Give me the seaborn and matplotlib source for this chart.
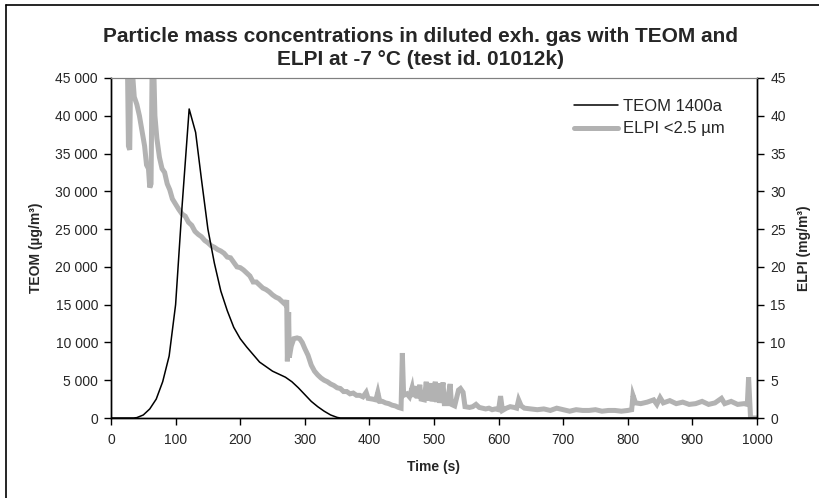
import matplotlib
matplotlib.use("Agg")
import matplotlib.pyplot as plt
import matplotlib.ticker as mticker
from matplotlib.lines import Line2D
import seaborn as sns
import pandas as pd

# ---- data ----
teom_time = [0, 35, 40, 50, 60, 70, 80, 90, 100, 110, 121, 131, 140, 150, 160, 170,
             180, 190, 200, 210, 220, 230, 240, 250, 260, 270, 280, 290, 300, 310,
             320, 330, 340, 350, 355, 1000]
teom_ugm3 = [0, 0, 50, 400, 1200, 2500, 4800, 8200, 15000, 28000, 40900, 37800, 31600,
             25000, 20500, 16800, 14200, 12000, 10500, 9400, 8400, 7400, 6800, 6200,
             5800, 5400, 4800, 4000, 3100, 2200, 1500, 900, 400, 80, 0, 0]

elpi_time = [25, 27, 29, 31, 33, 36, 40, 44, 48, 52, 55, 58, 60, 62, 64, 66, 68, 71, 75,
             79, 83, 87, 91, 95, 100, 105, 110, 115, 120, 125, 130, 135, 140, 145, 150,
             155, 160, 165, 170, 175, 180, 185, 190, 195, 200, 205, 210, 215, 220, 225,
             230, 235, 240, 245, 250, 255, 260, 265, 270, 272, 273, 275, 276, 279, 283,
             288, 292, 296, 300, 305, 310, 315, 320, 325, 330, 335, 340, 345, 350, 355,
             360, 365, 370, 375, 380, 385, 390, 395, 398, 405, 410, 413, 416, 420, 425,
             430, 435, 440, 445, 449, 451, 453, 458, 462, 466, 468, 472, 474, 478, 480,
             485, 488, 490, 495, 497, 502, 504, 507, 509, 514, 516, 520, 525, 527, 532,
             538, 541, 545, 548, 555, 560, 565, 570, 575, 580, 585, 590, 595, 600, 603,
             606, 612, 618, 624, 628, 631, 635, 640, 650, 660, 670, 680, 690, 700, 710,
             720, 730, 740, 750, 760, 770, 780, 790, 800, 806, 808, 812, 820, 830, 840,
             845, 850, 855, 865, 875, 885, 895, 905, 915, 925, 935, 945, 950, 960, 970,
             980, 985, 987, 990, 1000]
elpi_mgm3 = [50, 36, 35.5, 50, 46, 42.5, 41.5, 40, 38, 36, 33.5, 33, 30.5, 31, 50, 47, 40,
             37, 34.5, 33, 32.5, 31, 30.2, 29, 28.3, 27.6, 27, 26.7, 25.9, 25.5, 24.7,
             24.3, 24, 23.5, 23.2, 22.8, 22.6, 22.3, 22.1, 21.8, 21.3, 21.2, 20.6, 20.0,
             19.9, 19.6, 19.2, 18.8, 18.0, 18.0, 17.6, 17.2, 17.0, 16.7, 16.3, 16.0, 15.8,
             15.4, 15.0, 15.6, 7.5, 14, 8, 9.5, 10.5, 10.6, 10.5, 10.0, 9.2, 8.3, 7.0, 6.2,
             5.7, 5.3, 5.0, 4.8, 4.5, 4.3, 4.0, 3.9, 3.5, 3.5, 3.2, 3.3, 3.0, 3.0, 2.8,
             3.4, 2.6, 2.5, 2.4, 3.4, 2.2, 2.2, 2.0, 1.9, 1.7, 1.6, 1.4, 1.3, 8.6, 3.0,
             3.2, 2.8, 4.0, 2.8, 4.2, 2.6, 4.4, 2.5, 2.4, 4.8, 2.3, 4.6, 2.2, 4.8, 2.1,
             4.6, 2.0, 4.7, 1.9, 1.9, 4.5, 1.8, 1.6, 3.7, 3.9, 3.4, 1.5, 1.4, 1.5, 1.8,
             1.4, 1.3, 1.2, 1.3, 1.1, 1.2, 1.1, 2.9, 1.0, 1.3, 1.5, 1.4, 1.3, 2.4, 1.6,
             1.3, 1.2, 1.1, 1.2, 1.0, 1.3, 1.1, 0.9, 1.1, 1.0, 1.0, 1.1, 0.9, 1.0, 1.0,
             0.9, 1.0, 1.1, 3.0, 2.0, 1.9, 2.1, 2.4, 1.8, 2.7, 2.0, 2.3, 1.9, 2.1, 1.8,
             1.9, 2.2, 1.8, 2.0, 2.6, 1.9, 2.2, 1.8, 1.9, 1.8, 5.4, 0, 0]

title_line1 = "Particle mass concentrations in diluted exh. gas with TEOM and"
title_line2 = "ELPI at -7 °C (test id. 01012k)"
teom_label = "TEOM 1400a"
elpi_label = "ELPI <2.5 µm"

# ---- style ----
sns.set_theme(style="white")
plt.rcParams["font.family"] = ["Liberation Sans", "DejaVu Sans"]

fig = plt.figure(figsize=(8.2, 4.98), dpi=100)
ax = fig.add_axes([111 / 820, 1 - 418 / 498, 646 / 820, 340 / 498])
ax2 = ax.twinx()

teom_df = pd.DataFrame({"t": teom_time, "v": teom_ugm3})
elpi_df = pd.DataFrame({"t": elpi_time, "v": elpi_mgm3})

elpi_color = "#b2b2b2"
sns.lineplot(data=elpi_df, x="t", y="v", ax=ax2, color=elpi_color, linewidth=3.6,
             label=elpi_label, legend=False, solid_joinstyle="miter")
sns.lineplot(data=teom_df, x="t", y="v", ax=ax, color="black", linewidth=1.1,
             label=teom_label, legend=False)

ax.set_zorder(ax2.get_zorder() + 1)
ax.patch.set_visible(False)

ax.set_xlim(0, 1000)
ax.set_ylim(0, 45000)
ax2.set_ylim(0, 45)
ax.xaxis.set_major_locator(mticker.MultipleLocator(100))
ax.yaxis.set_major_locator(mticker.MultipleLocator(5000))
ax2.yaxis.set_major_locator(mticker.MultipleLocator(5))
ax.yaxis.set_major_formatter(mticker.FuncFormatter(lambda v, p: f"{int(v):,}".replace(",", " ")))

for a in (ax, ax2):
    for s in a.spines.values():
        s.set_linewidth(1.0)
        s.set_color("black")
    a.spines["top"].set_color("#808080")
    a.spines["top"].set_linewidth(0.8)
    a.tick_params(length=5, width=1.0, color="black", labelsize=10, pad=4.3, direction="out")
ax.tick_params(axis="x", bottom=True, pad=6)
ax.tick_params(axis="y", left=True)
ax2.tick_params(axis="y", right=True, pad=4.5)

ax.set_xlabel("Time (s)", fontsize=10, fontweight="bold", labelpad=9)
ax.set_ylabel("TEOM (µg/m³)", fontsize=10, fontweight="bold", labelpad=9)
ax2.set_ylabel("ELPI (mg/m³)", fontsize=10, fontweight="bold", labelpad=8)

fig.text(421 / 820, 1 - 42 / 498, title_line1, ha="center", va="baseline",
         fontsize=15, fontweight="bold")
fig.text(421 / 820, 1 - 65 / 498, title_line2, ha="center", va="baseline",
         fontsize=15, fontweight="bold")

handles = [Line2D([], [], color="black", linewidth=1.1),
           Line2D([], [], color=elpi_color, linewidth=3.6)]
ax.legend(handles, [teom_label, elpi_label], loc="upper left",
          bbox_to_anchor=(574 / 820, 1 - 99 / 498), bbox_transform=fig.transFigure,
          frameon=False, fontsize=12, handlelength=2.65, handletextpad=0.3,
          labelspacing=0.45, borderaxespad=0, borderpad=0)

# outer frame of the chart area
fig.add_artist(Line2D([6 / 820, 6 / 820], [0, 1 - 5 / 498], transform=fig.transFigure,
                      color="black", linewidth=1.2))
fig.add_artist(Line2D([6 / 820, 1], [1 - 5 / 498, 1 - 5 / 498], transform=fig.transFigure,
                      color="black", linewidth=1.2))

fig.savefig("out.png", dpi=100, facecolor="white")
